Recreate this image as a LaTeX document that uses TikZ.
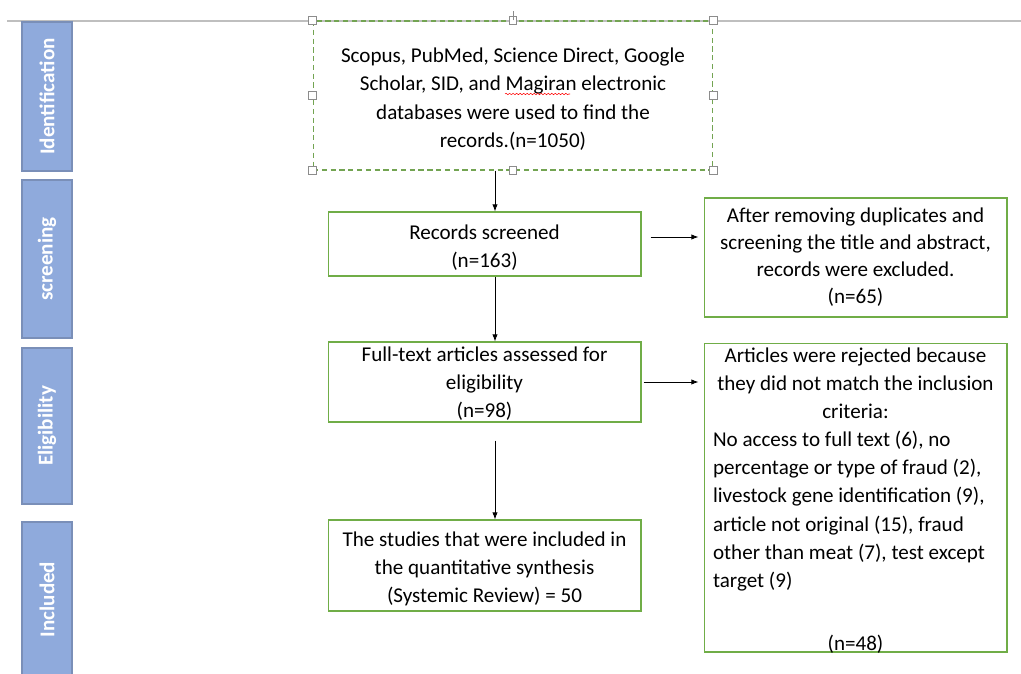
\documentclass[tikz,border=0pt]{standalone}
\usepackage{fontspec}
\setmainfont{Carlito}
\usetikzlibrary{arrows.meta}
\usetikzlibrary{decorations.pathmorphing}
\definecolor{barblue}{HTML}{8FAADC}
\definecolor{barline}{HTML}{7A8FB8}
\definecolor{boxgreen}{HTML}{70AD47}
\definecolor{handlegray}{HTML}{8C8C8C}
\newcommand\topstrut[1][12.5pt]{\rule{0pt}{#1}}
\tikzstyle{phase} = [draw=barline, fill=barblue, line width=0.8pt, rotate=90,
    minimum height=1cm, inner sep=0pt, text=white,
    font=\fontsize{12}{14}\selectfont\bfseries]
\tikzstyle{stepbox} = [draw=boxgreen, line width=0.6pt, rectangle,
    minimum width=6.26cm, align=center, inner sep=0pt,
    font=\fontsize{12}{16}\selectfont]
\tikzstyle{sidebox} = [stepbox, minimum width=6.06cm]
\tikzstyle{handle} = [draw=handlegray, fill=white, line width=0.4pt,
    minimum size=0.15cm, inner sep=0pt]
\tikzstyle{arr} = [-{Latex[length=4pt,width=3pt]}, line width=0.5pt]

\begin{document}
\begin{tikzpicture}[x=0.02cm, y=-0.02cm]
    \useasboundingbox (0,0) rectangle (1021,673);
    \draw[black!25, line width=0.6pt] (7,21) -- (1021,21);

    % phases
    \node[phase, minimum width=2.98cm] (ident) at (47,96.5) {Identification};
    \node[phase, minimum width=3.16cm] (screen) at (47,259) {screening};
    \node[phase, minimum width=3.12cm] (elig) at (47,426) {Eligibility};
    \node[phase, minimum width=3.10cm] (incl) at (47,599.5) {Included};

    % flow
    \node[stepbox, draw=boxgreen!80!gray, densely dashed, minimum width=8cm,
        minimum height=2.98cm] (src) at (513,95.5)
        {\topstrut Scopus, PubMed, Science Direct, Google\\
         Scholar, SID, and Magiran electronic\\
         databases were used to find the\\
         records.(n=1050)};
    \node[stepbox, minimum height=1.28cm] (scr) at (484.5,244)
        {\topstrut Records screened\\(n=163)};
    \node[sidebox, minimum height=2.38cm, font=\fontsize{12}{15.4}\selectfont]
        (excl) at (855.5,257.5)
        {After removing duplicates and\\
         screening the title and abstract,\\
         records were excluded.\\
         (n=65)};
    \node[stepbox, minimum height=1.6cm] (full) at (484.5,382)
        {\topstrut[10pt]Full-text articles assessed for\\eligibility\\(n=98)};
    \node[sidebox, minimum height=6.18cm] (rej) at (855.5,497.5) {%
        \begin{minipage}[c][6.18cm][t]{5.7cm}
            \vspace{2.7pt}
            {\centering Articles were rejected because\\
             they did not match the inclusion\\
             criteria:\par}
            \raggedright
            No access to full text (6), no\\
            percentage or type of fraud (2),\\
            livestock gene identification (9),\\
            article not original (15), fraud\\
            other than meat (7), test except\\
            target (9)\par
            \vfill
            {\centering (n=48)\par}
            \vspace{-1pt}
        \end{minipage}};
    \node[stepbox, minimum height=1.82cm] (synth) at (484.5,565.5)
        {\topstrut The studies that were included in\\
         the quantitative synthesis\\
         (Systemic Review) = 50};

    % spell-check mark under Magiran
    \draw[red, line width=0.3pt, decorate,
        decoration={snake, amplitude=0.4pt, segment length=2pt}] (505,94) -- (570,94);

    % selection handles
    \foreach \a in {north west,north,north east,east,south east,south,south west,west}
        \node[handle] at (src.\a) {};
    \draw[handlegray, line width=0.4pt] (src.north) -- ++(0,-9);

    \coordinate (spine) at (495,0);
    \draw[arr] (src.south -| spine) -- (scr.north -| spine);
    \draw[arr] (scr.south -| spine) -- (full.north -| spine);
    \draw[arr, shorten <=0.36cm] (full.south -| spine) -- (synth.north -| spine);
    \draw[arr, shorten <=0.18cm, shorten >=0.1cm]
        ([yshift=0.14cm]scr.east) -- ([yshift=0.14cm]scr.east -| excl.west);
    \draw[arr, shorten <=0.04cm, shorten >=0.1cm]
        (full.east) -- (full.east -| rej.west);
\end{tikzpicture}
\end{document}
